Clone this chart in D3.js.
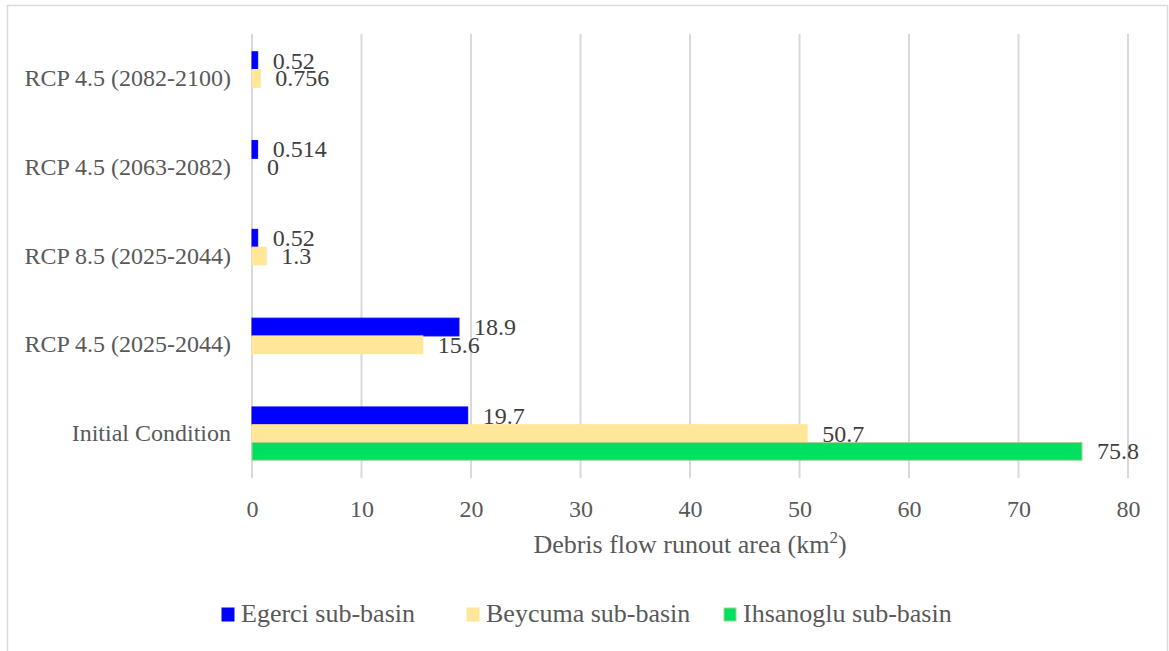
<!DOCTYPE html>
<html>
<head>
<meta charset="utf-8">
<script src="https://cdn.jsdelivr.net/npm/d3@7"></script>
<style>
  html, body { margin: 0; padding: 0; background: #fff; }
  svg text { font-family: "Liberation Serif", "Times New Roman", serif; }
</style>
</head>
<body>
<svg id="chart" width="1169" height="651"></svg>
<script>
// Categories listed bottom-to-top as they appear on the vertical axis
const categories = [
  "Initial Condition",
  "RCP 4.5 (2025-2044)",
  "RCP 8.5 (2025-2044)",
  "RCP 4.5 (2063-2082)",
  "RCP 4.5 (2082-2100)"
];
const seriesNames = ["Egerci sub-basin", "Beycuma sub-basin", "Ihsanoglu sub-basin"];
const egerci    = [19.7, 18.9, 0.52, 0.514, 0.52];
const beycuma   = [50.7, 15.6, 1.3, 0, 0.756];
const ihsanoglu = [75.8, null, null, null, null];
const xTicks = [0, 10, 20, 30, 40, 50, 60, 70, 80];
const axisTitle = "Debris flow runout area (km";

const colors = ["#0000ff", "#ffe699", "#00e060"];
const strokes = ["#0000ff", "#ffe699", "#a9d18e"];
const seriesValues = [egerci, beycuma, ihsanoglu];

const svg = d3.select("#chart");

// outer chart frame
svg.append("rect")
  .attr("x", 7.5).attr("y", 5.5).attr("width", 1160).attr("height", 650)
  .attr("fill", "#fff").attr("stroke", "#d9d9d9").attr("stroke-width", 1.5);

const plot = { left: 252, right: 1128, top: 34, bottom: 478 };

const x = d3.scaleLinear().domain([0, 80]).range([plot.left, plot.right]);
const y = d3.scaleBand()
  .domain(categories.slice().reverse())
  .range([plot.top, plot.bottom]);
const ySub = d3.scaleBand()
  .domain(seriesNames)
  .range([y.bandwidth() * 0.2, y.bandwidth() * 0.8]);

// vertical gridlines
svg.append("g")
  .selectAll("line")
  .data(xTicks)
  .join("line")
  .attr("x1", d => x(d)).attr("x2", d => x(d))
  .attr("y1", plot.top).attr("y2", plot.bottom)
  .attr("stroke", "#d9d9d9").attr("stroke-width", 2);

// x axis tick labels
const xAxis = svg.append("g")
  .attr("transform", `translate(0,${plot.bottom})`)
  .call(d3.axisBottom(x).tickValues(xTicks).tickSize(0).tickPadding(22));
xAxis.select(".domain").remove();
xAxis.selectAll("text")
  .style("font-family", "'Liberation Serif', serif")
  .attr("font-size", 24).attr("fill", "#595959");

// y axis category labels
const yAxis = svg.append("g")
  .attr("transform", `translate(${plot.left},0)`)
  .call(d3.axisLeft(y).tickSize(0).tickPadding(21));
yAxis.select(".domain").remove();
yAxis.selectAll("text")
  .style("font-family", "'Liberation Serif', serif")
  .attr("font-size", 24).attr("fill", "#595959");

// bars and value labels
seriesValues.forEach((vals, si) => {
  const name = seriesNames[si];
  const data = categories.map((c, i) => ({ c, v: vals[i] })).filter(d => d.v !== null);
  const g = svg.append("g");
  g.selectAll("rect")
    .data(data)
    .join("rect")
    .attr("x", x(0))
    .attr("y", d => y(d.c) + ySub(name))
    .attr("width", d => x(d.v) - x(0))
    .attr("height", ySub.bandwidth())
    .attr("fill", colors[si])
    .attr("stroke", d => d.v > 0 ? strokes[si] : "none")
    .attr("stroke-width", 1);
  g.selectAll("text")
    .data(data)
    .join("text")
    .attr("x", d => x(d.v) + 15)
    .attr("y", d => y(d.c) + ySub(name) + ySub.bandwidth() / 2 + 8)
    .attr("font-size", 24)
    .attr("fill", "#404040")
    .text(d => d.v);
});

// axis title with superscript
const title = svg.append("text")
  .attr("x", (plot.left + plot.right) / 2)
  .attr("y", 553)
  .attr("text-anchor", "middle")
  .attr("font-size", 26)
  .attr("fill", "#595959");
title.append("tspan").text(axisTitle);
title.append("tspan").attr("font-size", 17).attr("dy", -10).text("2");
title.append("tspan").attr("dy", 10).text(")");

// legend
const legendX = [222, 467, 724];
const items = svg.append("g").selectAll("g")
  .data(seriesNames)
  .join("g")
  .attr("transform", (d, i) => `translate(${legendX[i]},622)`);
items.append("rect")
  .attr("width", 12).attr("height", 13)
  .attr("y", -14)
  .attr("fill", (d, i) => colors[i])
  .attr("stroke", (d, i) => strokes[i]);
items.append("text")
  .attr("x", 19)
  .attr("font-size", 26)
  .attr("fill", "#595959")
  .text(d => d);
</script>
</body>
</html>
